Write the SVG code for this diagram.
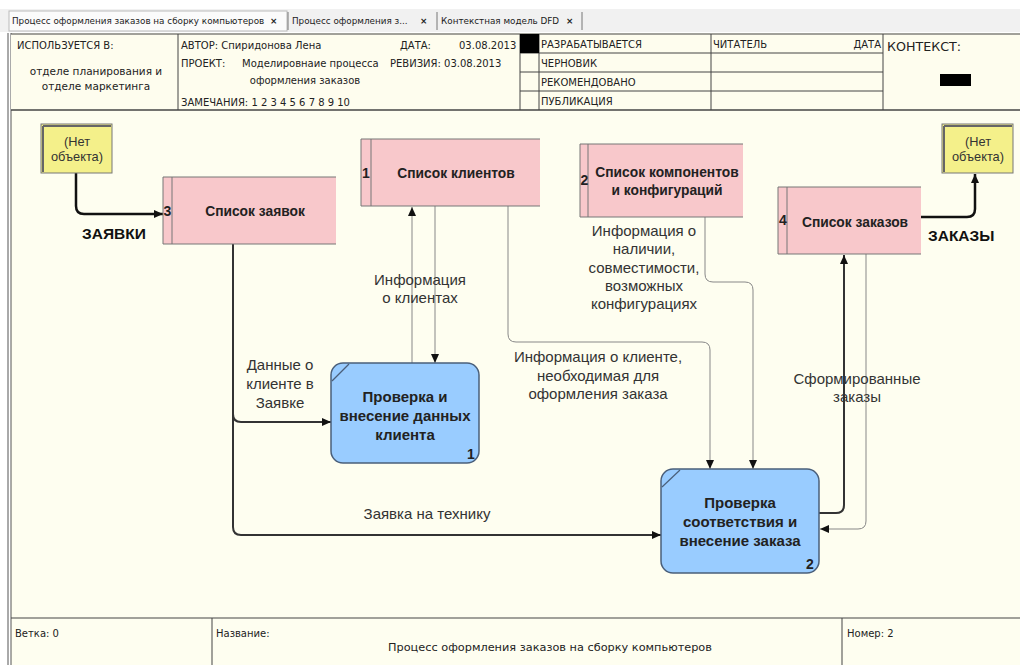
<svg xmlns="http://www.w3.org/2000/svg" width="1020" height="665" viewBox="0 0 1020 665">
<style>
.hd{font-family:"DejaVu Sans",sans-serif;font-size:10px;fill:#222}
.tab{font-family:"DejaVu Sans",sans-serif;font-size:8.8px;fill:#222}
.lbl{font-family:"Liberation Sans",Arial,sans-serif;font-size:15px;fill:#333}
.ex{font-family:"Liberation Sans",Arial,sans-serif;font-size:12.8px;fill:#333}
.nd{font-family:"Liberation Sans",Arial,sans-serif;font-size:13.8px;font-weight:bold;fill:#222}
.num{font-family:"Liberation Sans",Arial,sans-serif;font-size:14px;font-weight:bold;fill:#222}
.pn{font-family:"Liberation Sans",Arial,sans-serif;font-size:15px;font-weight:bold;fill:#222}
.big{font-family:"Liberation Sans",Arial,sans-serif;font-size:15.5px;font-weight:bold;fill:#111}
.store{fill:#f8c8cb}
.sline{stroke:#777;stroke-width:1;fill:none}
.proc{fill:#99ccff;stroke:#4a5f7a;stroke-width:1.5}
.ext{fill:#f4f08a;stroke:#777;stroke-width:1}
.thin{fill:none;stroke:#888;stroke-width:1}
.thick{fill:none;stroke:#111;stroke-width:2.5}
.mid{fill:none;stroke:#333;stroke-width:2}
.grid{stroke:#444;stroke-width:1;fill:none}
</style>
<defs>
<marker id="ah" markerWidth="9" markerHeight="8" refX="9" refY="4" orient="auto" markerUnits="userSpaceOnUse">
<path d="M0,0 L9,4 L0,8 Z" fill="#111"/>
</marker>
</defs>
<rect width="1020" height="665" fill="#ffffff"/>
<!-- tab bar -->
<rect x="0" y="9" width="1020" height="23" fill="#f1f1f1"/>
<rect x="9" y="11" width="278" height="20" fill="#fbfbfb" stroke="#bbb"/>
<text class="tab" x="12" y="23.5">Процесс оформления заказов на сборку компьютеров</text>
<text class="tab" x="270" y="24" font-weight="bold">×</text>
<line x1="288" y1="12" x2="288" y2="30" stroke="#777"/>
<text class="tab" x="292" y="23.5">Процесс оформления з...</text>
<text class="tab" x="420" y="24" font-weight="bold">×</text>
<line x1="437" y1="12" x2="437" y2="30" stroke="#777"/>
<text class="tab" x="441" y="23.5">Контекстная модель DFD</text>
<text class="tab" x="566" y="24" font-weight="bold">×</text>
<line x1="582" y1="12" x2="582" y2="30" stroke="#777"/>
<!-- page background -->
<rect x="11" y="33" width="1009" height="632" fill="#fefef0"/>
<line x1="8" y1="33" x2="8" y2="665" stroke="#555"/>
<line x1="11" y1="33" x2="11" y2="665" stroke="#555"/>
<!-- header -->
<g id="header">
<rect x="11" y="34" width="1009" height="76" fill="#fefdee"/>
<line x1="11" y1="34" x2="1020" y2="34" stroke="#444"/>
<line x1="11" y1="110" x2="1020" y2="110" stroke="#444" stroke-width="1.5"/>
<line x1="178" y1="34" x2="178" y2="110" class="grid"/>
<line x1="520" y1="34" x2="520" y2="110" class="grid"/>
<line x1="539" y1="34" x2="539" y2="110" class="grid"/>
<line x1="711" y1="34" x2="711" y2="110" class="grid"/>
<line x1="883" y1="34" x2="883" y2="110" class="grid"/>
<line x1="520" y1="53" x2="883" y2="53" class="grid"/>
<line x1="520" y1="72" x2="883" y2="72" class="grid"/>
<line x1="520" y1="91" x2="883" y2="91" class="grid"/>
<rect x="520" y="34" width="19" height="19" fill="#000"/>
<rect x="940" y="74" width="31" height="12" fill="#000"/>
<text class="hd" x="17" y="49">ИСПОЛЬЗУЕТСЯ В:</text>
<text class="hd" x="96" y="75" text-anchor="middle" style="font-size:10.5px">отделе планирования и</text>
<text class="hd" x="96" y="90" text-anchor="middle" style="font-size:10.5px">отделе маркетинга</text>
<text class="hd" x="181" y="49">АВТОР: Спиридонова Лена</text>
<text class="hd" x="400" y="49">ДАТА:</text>
<text class="hd" x="459" y="49">03.08.2013</text>
<text class="hd" x="181" y="67">ПРОЕКТ:</text>
<text class="hd" x="242" y="67">Моделировнаие процесса</text>
<text class="hd" x="305" y="84" text-anchor="middle">оформления заказов</text>
<text class="hd" x="390" y="67">РЕВИЗИЯ: 03.08.2013</text>
<text class="hd" x="181" y="106">ЗАМЕЧАНИЯ: 1 2 3 4 5 6 7 8 9 10</text>
<text class="hd" x="541" y="48">РАЗРАБАТЫВАЕТСЯ</text>
<text class="hd" x="541" y="67">ЧЕРНОВИК</text>
<text class="hd" x="541" y="86">РЕКОМЕНДОВАНО</text>
<text class="hd" x="541" y="105">ПУБЛИКАЦИЯ</text>
<text class="hd" x="713" y="48">ЧИТАТЕЛЬ</text>
<text class="hd" x="881" y="48" text-anchor="end">ДАТА</text>
<text class="hd" x="887" y="51" style="font-size:12px" textLength="74" lengthAdjust="spacingAndGlyphs">КОНТЕКСТ:</text>
</g>
<!-- footer -->
<g id="footer">
<line x1="11" y1="618" x2="1020" y2="618" stroke="#444"/>
<line x1="212" y1="618" x2="212" y2="665" class="grid"/>
<line x1="842" y1="618" x2="842" y2="665" class="grid"/>
<text class="hd" x="15" y="637">Ветка: 0</text>
<text class="hd" x="216" y="637">Название:</text>
<text class="hd" x="550" y="651" text-anchor="middle" style="font-size:11.3px">Процесс оформления заказов на сборку компьютеров</text>
<text class="hd" x="847" y="637">Номер: 2</text>
</g>
<!-- connectors -->
<g id="connectors">
<path class="thick" d="M76,173 V206 Q76,214 84,214 H163" marker-end="url(#ah)"/>
<path class="thick" d="M921,217 H967 Q975,217 975,209 V174" marker-end="url(#ah)"/>
<path class="mid" d="M233,244 V414 Q233,422 241,422 H331" marker-end="url(#ah)"/>
<path class="mid" d="M233,244 V527 Q233,535 241,535 H661" marker-end="url(#ah)"/>
<path class="thin" d="M412,363 V207" stroke="#666" marker-end="url(#ah)"/>
<path class="thin" d="M435,206 V363" marker-end="url(#ah)"/>
<path class="thin" d="M508,206 V334 Q508,342 516,342 H702 Q710,342 710,350 V469" marker-end="url(#ah)"/>
<path class="thin" d="M705,217 V274 Q705,282 713,282 H745 Q753,282 753,290 V469" marker-end="url(#ah)"/>
<path class="mid" d="M819,513 H836 Q844,513 844,505 V255" marker-end="url(#ah)"/>
<path class="thin" d="M866,254 V521 Q866,529 858,529 H820" marker-end="url(#ah)"/>
<text class="big" x="82" y="239">ЗАЯВКИ</text>
<text class="big" x="928" y="241">ЗАКАЗЫ</text>
<text class="lbl" x="280" y="370" text-anchor="middle">Данные о</text>
<text class="lbl" x="280" y="389" text-anchor="middle">клиенте в</text>
<text class="lbl" x="280" y="408" text-anchor="middle">Заявке</text>
<text class="lbl" x="420" y="285" text-anchor="middle">Информация</text>
<text class="lbl" x="420" y="303" text-anchor="middle">о клиентах</text>
<text class="lbl" x="598" y="362" text-anchor="middle">Информация о клиенте,</text>
<text class="lbl" x="598" y="381" text-anchor="middle">необходимая для</text>
<text class="lbl" x="598" y="399" text-anchor="middle">оформления заказа</text>
<text class="lbl" x="644" y="236" text-anchor="middle">Информация о</text>
<text class="lbl" x="644" y="254" text-anchor="middle">наличии,</text>
<text class="lbl" x="644" y="273" text-anchor="middle">совместимости,</text>
<text class="lbl" x="644" y="291" text-anchor="middle">возможных</text>
<text class="lbl" x="644" y="309" text-anchor="middle">конфигурациях</text>
<text class="lbl" x="857" y="384" text-anchor="middle">Сформированные</text>
<text class="lbl" x="857" y="402" text-anchor="middle">заказы</text>
<text class="lbl" x="427" y="519" text-anchor="middle">Заявка на технику</text>
</g>
<!-- external entities -->
<g id="ext-left">
<rect class="ext" x="41" y="124" width="71" height="49"/>
<line x1="43" y1="126" x2="111" y2="126" stroke="#666" stroke-width="2"/>
<line x1="43" y1="126" x2="43" y2="172" stroke="#666" stroke-width="2"/>
<text class="ex" x="77" y="146" text-anchor="middle">(Нет</text>
<text class="ex" x="77" y="161" text-anchor="middle">объекта)</text>
</g>
<g id="ext-right">
<rect class="ext" x="942" y="124" width="71" height="49"/>
<line x1="944" y1="126" x2="1012" y2="126" stroke="#666" stroke-width="2"/>
<line x1="944" y1="126" x2="944" y2="172" stroke="#666" stroke-width="2"/>
<text class="ex" x="978" y="146" text-anchor="middle">(Нет</text>
<text class="ex" x="978" y="161" text-anchor="middle">объекта)</text>
</g>
<!-- data stores -->
<g id="store-3">
<rect class="store" x="163" y="177" width="173" height="67"/>
<path class="sline" d="M336,177 H163 V244 H336 M172,177 V244"/>
<text class="num" x="163.5" y="216">3</text>
<text class="nd" x="255" y="216" text-anchor="middle">Список заявок</text>
</g>
<g id="store-1">
<rect class="store" x="361" y="139" width="179" height="67"/>
<path class="sline" d="M540,139 H361 V206 H540 M371,139 V206"/>
<text class="num" x="362" y="178">1</text>
<text class="nd" x="456" y="178" text-anchor="middle">Список клиентов</text>
</g>
<g id="store-2">
<rect class="store" x="580" y="144" width="163" height="73"/>
<path class="sline" d="M743,144 H580 V217 H743 M588,144 V217"/>
<text class="num" x="580.5" y="185">2</text>
<text class="nd" x="667" y="177" text-anchor="middle">Список компонентов</text>
<text class="nd" x="667" y="195" text-anchor="middle">и конфигураций</text>
</g>
<g id="store-4">
<rect class="store" x="778" y="187" width="143" height="67"/>
<path class="sline" d="M921,187 H778 V254 H921 M787,187 V254"/>
<text class="num" x="779" y="225">4</text>
<text class="nd" x="855" y="227" text-anchor="middle">Список заказов</text>
</g>
<!-- processes -->
<g id="proc-1">
<rect class="proc" x="331" y="363" width="148" height="100" rx="12"/>
<line x1="332" y1="381" x2="349" y2="364" stroke="#4a5f7a" stroke-width="1.2"/>
<text class="pn" x="405" y="402" text-anchor="middle">Проверка и</text>
<text class="pn" x="405" y="421" text-anchor="middle">внесение данных</text>
<text class="pn" x="405" y="440" text-anchor="middle">клиента</text>
<text class="num" x="467" y="459">1</text>
</g>
<g id="proc-2">
<rect class="proc" x="661" y="469" width="158" height="104" rx="12"/>
<line x1="662" y1="487" x2="680" y2="470" stroke="#4a5f7a" stroke-width="1.2"/>
<text class="pn" x="740" y="508" text-anchor="middle">Проверка</text>
<text class="pn" x="740" y="527" text-anchor="middle">соответствия и</text>
<text class="pn" x="740" y="546" text-anchor="middle">внесение заказа</text>
<text class="num" x="806" y="569">2</text>
</g>
</svg>
